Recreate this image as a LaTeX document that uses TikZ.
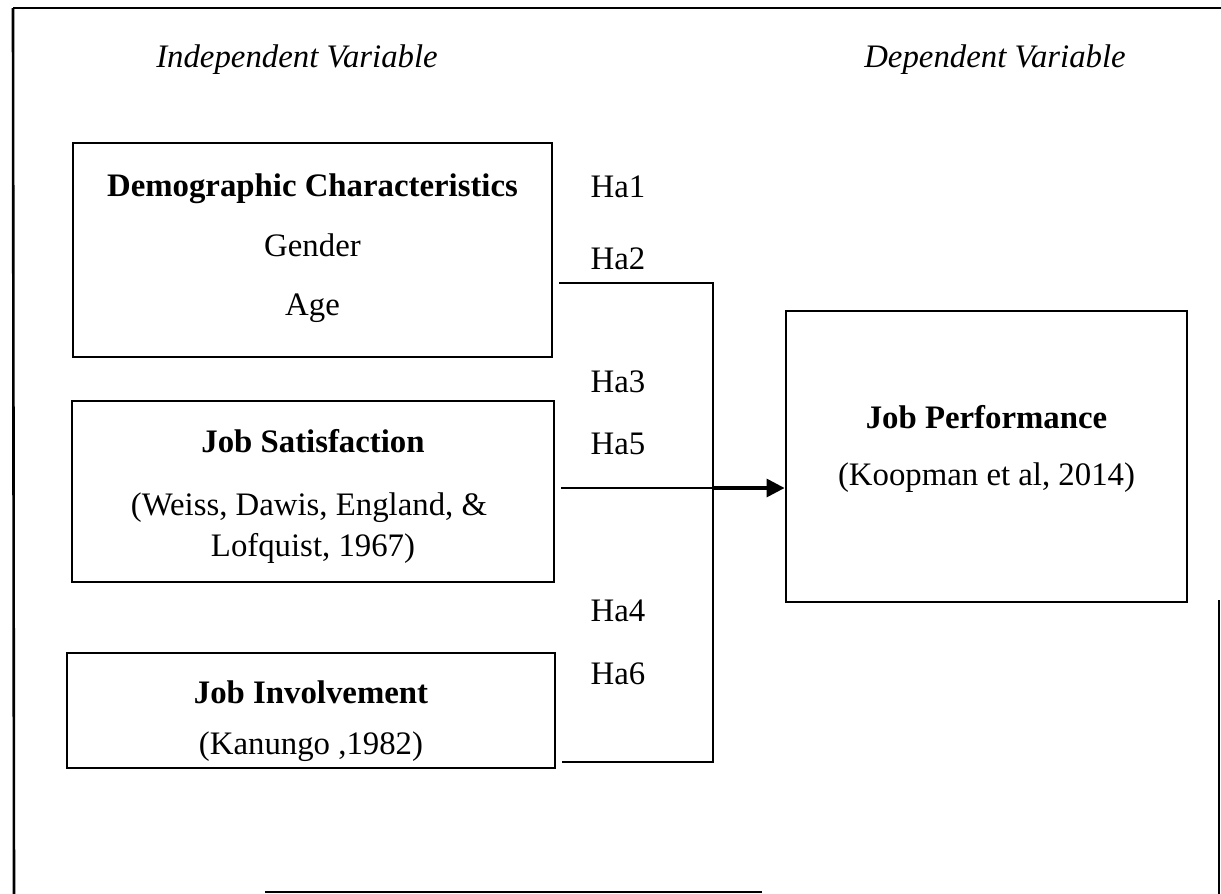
\documentclass[tikz,border=0pt]{standalone}
\usepackage{fontspec}
\setmainfont{Liberation Serif}
\usetikzlibrary{arrows.meta}
\begin{document}
\begin{tikzpicture}[x=0.5pt,y=-0.5pt,
  box/.style={draw,line width=1.4pt,inner sep=0pt},
  txt/.style={anchor=base,inner sep=0pt,font=\fontsize{16.4}{19}\selectfont},
  btxt/.style={anchor=base,inner sep=0pt,font=\fontsize{16.4}{19}\selectfont\bfseries},
  itxt/.style={anchor=base,inner sep=0pt,font=\fontsize{16.4}{19}\selectfont\itshape},
  conn/.style={line width=1pt},
  frame/.style={line width=1.3pt},
]
\useasboundingbox (0,0) rectangle (1221,894);
% outer frame (partially visible in the reference)
\coordinate (f1) at (13,8);
\coordinate (f2) at (1221,8);
\coordinate (f3) at (14,894);
\coordinate (f4) at (265,892);
\coordinate (f5) at (762,892);
\coordinate (f6) at (1219,600);
\coordinate (f7) at (1219,894);
\draw[frame] (f1) -- (f2);
\draw[frame] (f1) -- (f3);
\draw[frame] (f4) -- (f5);
\draw[frame] (f6) -- (f7);

% headers
\node[itxt] (hind) at (297,67) {Independent Variable};
\node[itxt] (hdep) at (995,67) {Dependent Variable};

% boxes
\node[box,minimum width=239.5pt,minimum height=107pt] (demo) at (312.5,250) {};
\node[box,minimum width=241pt,minimum height=90.5pt] (js) at (313,491.5) {};
\node[box,minimum width=244pt,minimum height=57.5pt] (ji) at (311,710.5) {};
\node[box,minimum width=200.5pt,minimum height=145.5pt] (jp) at (986.5,456.5) {};

% box texts
\node[btxt] (t1) at (312.5,196) {Demographic Characteristics};
\node[txt] (t2) at (312.5,256) {Gender};
\node[txt] (t3) at (312.5,315) {Age};
\node[btxt] (t4) at (313,452) {Job Satisfaction};
\node[txt] (t5) at (309,515) {(Weiss, Dawis, England, \&};
\node[txt] (t6) at (313,556) {Lofquist, 1967)};
\node[btxt] (t7) at (311,703) {Job Involvement};
\node[txt] (t8) at (311,754) {(Kanungo ,1982)};
\node[btxt] (t9) at (986.5,428) {Job Performance};
\node[txt] (t10) at (986.5,485) {(Koopman et al, 2014)};

% hypothesis labels
\node[txt] (h1) at (618,197) {Ha1};
\node[txt] (h2) at (618,269) {Ha2};
\node[txt] (h3) at (618,392) {Ha3};
\node[txt] (h5) at (618,454) {Ha5};
\node[txt] (h4) at (618,621) {Ha4};
\node[txt] (h6) at (618,684) {Ha6};

% connectors
\coordinate (jt) at (713,283);
\coordinate (jm) at (713,488);
\coordinate (jb) at (713,762);
\draw[conn] ([xshift=3pt]demo.east |- jt) -- (jt) -- (jb) -- ([xshift=3pt]ji.east |- jb);
\draw[conn] ([xshift=3pt]js.east |- jm) -- (jm);
\draw[line width=1.6pt,-{Triangle[length=9pt,width=9pt]}] (jm) -- (jp.west |- jm);
\end{tikzpicture}
\end{document}
